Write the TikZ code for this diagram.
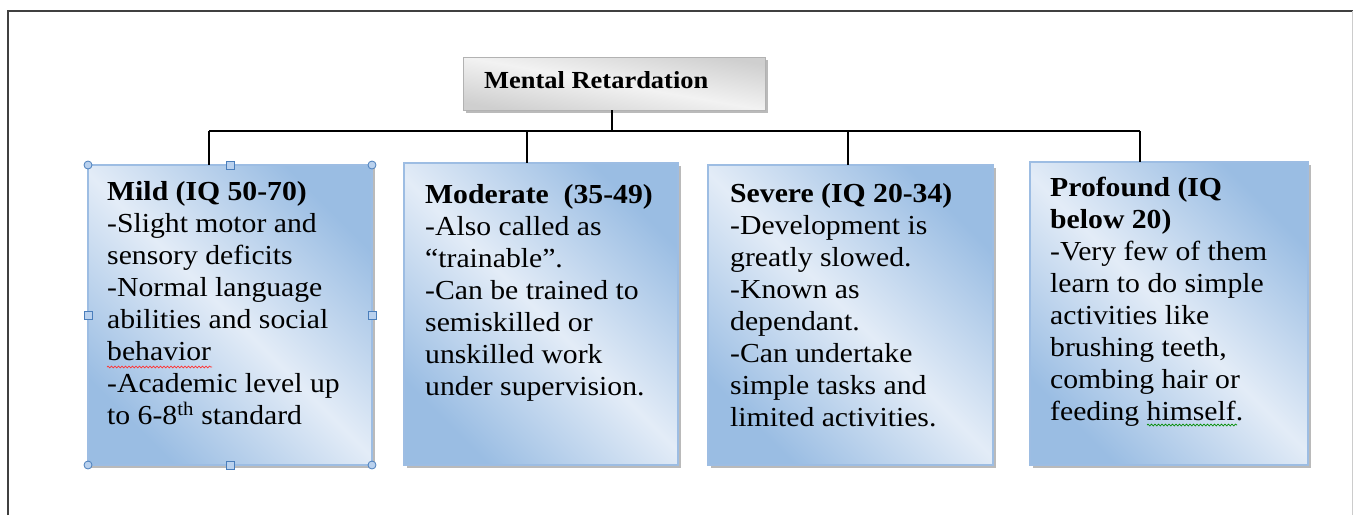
\documentclass[tikz,border=0pt]{standalone}
\usepackage{fontspec}
\setmainfont{Liberation Serif}[FakeStretch=1.08]
\usetikzlibrary{shadows,decorations.pathmorphing}
\definecolor{bxdark}{HTML}{9ABDE3}
\definecolor{bxlight}{HTML}{E3ECF7}
\definecolor{bxborder}{HTML}{9DBDE3}
\definecolor{handleblue}{HTML}{4A7EBB}
\definecolor{handlefill}{HTML}{B9D1EE}
\definecolor{framegray}{HTML}{404040}
\definecolor{ttlight}{HTML}{F2F2F2}
\definecolor{ttdark}{HTML}{CFCFCF}
\begin{document}
\begin{tikzpicture}[x=1pt,y=-1pt,
  catbox/.style={draw=bxborder, line width=1.2pt, shading=axis,
    top color=bxdark, bottom color=bxdark, middle color=bxlight, shading angle=135,
    drop shadow={shadow xshift=3pt, shadow yshift=-3pt, fill=black!45, opacity=0.6},
    inner sep=0pt, outer sep=0pt, anchor=north west},
  titlebox/.style={draw=black!30, line width=0.8pt, shading=axis,
    top color=ttdark, bottom color=ttdark, middle color=ttlight, shading angle=170,
    drop shadow={shadow xshift=3pt, shadow yshift=-3pt, fill=black!45, opacity=0.6},
    inner sep=0pt, outer sep=0pt, anchor=north west},
  bodytext/.style={anchor=north west, inner sep=0pt, align=left,
    font=\fontsize{27.5}{32}\selectfont},
  link/.style={draw=black, line width=1.8pt},
  handlec/.style={circle, draw=handleblue, fill=handlefill, line width=0.8pt, minimum size=8pt, inner sep=0pt},
  handles/.style={rectangle, draw=handleblue, fill=handlefill, line width=0.8pt, minimum size=8pt, inner sep=0pt},
  wavy/.style={decorate, decoration={snake, amplitude=0.9pt, segment length=3.5pt}, line width=0.7pt}
]
\useasboundingbox (0,0) rectangle (1353,515);
% page frame
\draw[framegray, line width=2pt] (8,515) -- (8,11) -- (1353,11);
\draw[black!20, line width=1pt] (1352,11) -- (1352,515);

% title
\node[titlebox, minimum width=302pt, minimum height=53pt] (title) at (463,57) {};
\node[anchor=base west, inner sep=0pt, font=\fontsize{24.5}{28}\selectfont\bfseries] (titletext) at (484,88) {Mental Retardation};

% boxes
\node[catbox, minimum width=284pt, minimum height=300pt] (mild) at (88,165) {};
\node[catbox, minimum width=274pt, minimum height=302pt] (moderate) at (404,163) {};
\node[catbox, minimum width=285pt, minimum height=300pt] (severe) at (708,165) {};
\node[catbox, minimum width=278pt, minimum height=303pt] (profound) at (1030,162) {};

% connectors
\coordinate (jt) at (612,131);
\coordinate (j1) at (209,131);
\coordinate (j2) at (527,131);
\coordinate (j3) at (848,131);
\coordinate (j4) at (1140,131);
\draw[link] (title.south -| jt) -- (jt);
\draw[link] (j1) -- (j4);
\draw[link] (j1) -- (j1 |- mild.north);
\draw[link] (j2) -- (j2 |- moderate.north);
\draw[link] (j3) -- (j3 |- severe.north);
\draw[link] (j4) -- (j4 |- profound.north);

% texts
\node[bodytext] (mildtext) at (107,177.6) {\strut\textbf{Mild (IQ 50-70)}\\
-Slight motor and\\
sensory deficits\\
-Normal language\\
abilities and social\\
behavior\\
-Academic level up\\
to 6-8\textsuperscript{th} standard};

\node[bodytext] (moderatetext) at (425,180.6) {\strut\textbf{Moderate\ \ (35-49)}\\
-Also called as\\
``trainable''.\\
-Can be trained to\\
semiskilled or\\
unskilled work\\
under supervision.};

\node[bodytext] (severetext) at (730,179.6) {\strut\textbf{Severe (IQ 20-34)}\\
-Development is\\
greatly slowed.\\
-Known as\\
dependant.\\
-Can undertake\\
simple tasks and\\
limited activities.};

\node[bodytext] (profoundtext) at (1050,173.6) {\strut\textbf{Profound (IQ}\\
\textbf{below 20)}\\
-Very few of them\\
learn to do simple\\
activities like\\
brushing teeth,\\
combing hair or\\
feeding himself.};

% spell-check underlines
\draw[red!80, wavy] (107,367) -- (212,367);
\draw[green!55!black, wavy] (1147,425) -- (1237,425);

% selection handles on the Mild box
\node[handlec] (h1) at (mild.north west) {};
\node[handlec] (h2) at (mild.north east) {};
\node[handlec] (h3) at (mild.south west) {};
\node[handlec] (h4) at (mild.south east) {};
\node[handles] (h5) at (mild.north) {};
\node[handles] (h6) at (mild.south) {};
\node[handles] (h7) at (mild.west) {};
\node[handles] (h8) at (mild.east) {};
\end{tikzpicture}
\end{document}
